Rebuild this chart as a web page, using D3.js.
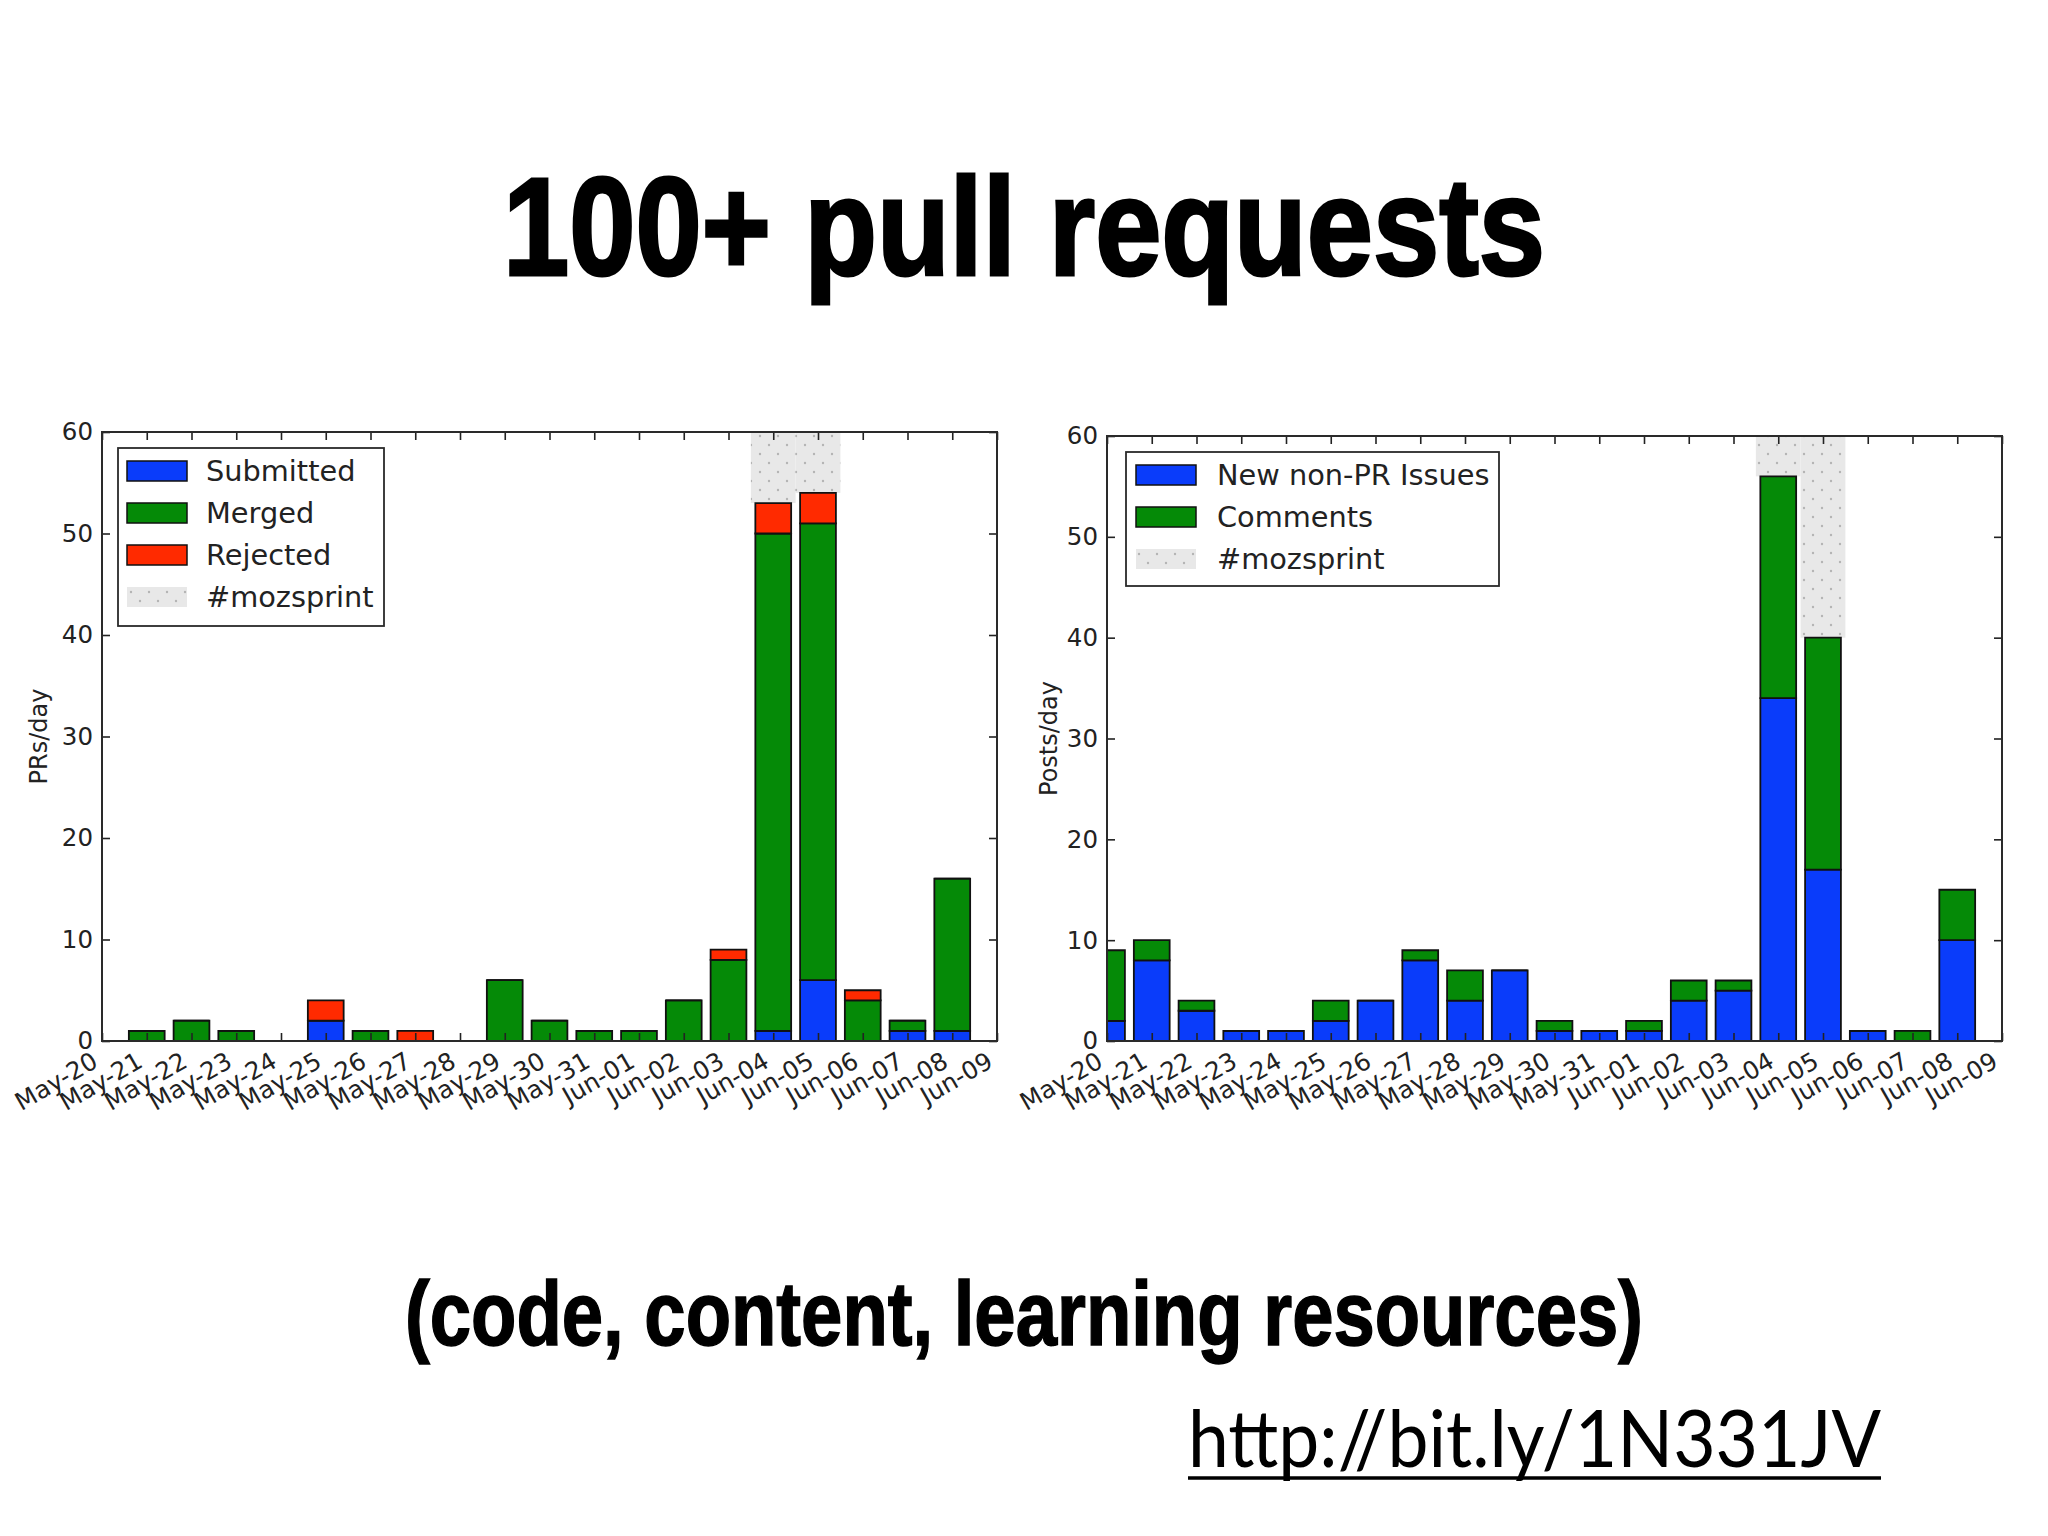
<!DOCTYPE html>
<html>
  <head>
    <meta charset="utf-8">
    <style>
      body { margin: 0; background: #fff; }
      svg { display: block; }
    </style>
  </head>
  <body>
    <div id='slide'></div>

    <script src="https://cdn.jsdelivr.net/npm/d3@7"></script>
    <script>

    // tick labels (one per day, the last one has no bar)
    var days = ["May-20","May-21","May-22","May-23","May-24","May-25","May-26","May-27",
                "May-28","May-29","May-30","May-31","Jun-01","Jun-02","Jun-03","Jun-04",
                "Jun-05","Jun-06","Jun-07","Jun-08","Jun-09"];
    var barDays = days.slice(0, 20);
    var sprintDays = ["Jun-04","Jun-05"];
    var yTicks = [0,10,20,30,40,50,60];

    // left chart: PRs/day  (null = no row that day)
    var submitted = [0,0,0,0,null,2,0,0,null,0,0,0,0,0,0, 1, 6,0,1, 1];
    var merged    = [0,1,2,1,null,0,1,0,null,6,2,1,1,4,8,49,45,4,1,15];
    var rejected  = [0,0,0,0,null,2,0,1,null,0,0,0,0,0,1, 3, 3,1,0, 0];

    // right chart: Posts/day
    var issues   = [2,8,3,1,1,2,4,8,4,7,1,1,1,4,5,34,17,1,0,10];
    var comments = [7,2,1,0,0,2,0,1,3,0,1,0,1,2,1,22,23,0,1, 5];

    var W = 2048, H = 1536;

    var svg = d3.select('#slide').append('svg')
        .attr('width', W)
        .attr('height', H);

    var defs = svg.append('defs');
    var pat = defs.append('pattern')
        .attr('id', 'dots')
        .attr('patternUnits', 'userSpaceOnUse')
        .attr('width', 18).attr('height', 18);
    pat.append('rect').attr('width', 18).attr('height', 18).attr('fill', '#e8e8e8');
    pat.append('circle').attr('cx', 4).attr('cy', 4).attr('r', 1.2).attr('fill', '#b4b4b4');
    pat.append('circle').attr('cx', 13).attr('cy', 13).attr('r', 1.2).attr('fill', '#b4b4b4');

    svg.append('rect').attr('width', W).attr('height', H).attr('fill', '#fff');

    function drawChart(c) {
      var x = d3.scalePoint().domain(days).range([c.left, c.right]);
      var y = d3.scaleLinear().domain([0, 60]).range([c.bottom, c.top]);
      var bw = x.step() * 0.8;

      var g = svg.append('g');

      defs.append('clipPath').attr('id', 'clip-' + c.id)
        .append('rect')
        .attr('x', c.left).attr('y', c.top)
        .attr('width', c.right - c.left).attr('height', c.bottom - c.top);

      var plot = g.append('g').attr('clip-path', 'url(#clip-' + c.id + ')');

      var rows = barDays.map(function(d, i) {
        var r = {day: d, missing: c.series[0][i] == null, total: 0};
        c.keys.forEach(function(k, j) {
          r[k] = c.series[j][i] || 0;
          r.total += r[k];
        });
        return r;
      });
      var stacked = d3.stack().keys(c.keys)(rows);

      // #mozsprint shading, above the bars of the sprint days
      plot.selectAll('.sprint')
          .data(rows.filter(function(r) { return sprintDays.indexOf(r.day) >= 0; }))
          .enter()
          .append('rect')
          .attr('class', 'sprint')
          .attr('x', function(d) { return x(d.day) - x.step() / 2; })
          .attr('width', x.step())
          .attr('y', y(60))
          .attr('height', function(d) { return y(d.total) - y(60); })
          .attr('fill', 'url(#dots)');

      plot.selectAll('.layer')
          .data(stacked)
          .enter()
          .append('g')
          .attr('class', 'layer')
          .attr('fill', function(d, i) { return c.colors[i]; })
          .selectAll('path')
          .data(function(d) { return d.filter(function(s) { return !s.data.missing; }); })
          .enter()
          .append('path')
          .attr('d', function(s) {
            var xl = x(s.data.day) - bw / 2, yt = y(s[1]), yb = y(s[0]);
            return 'M' + xl + ',' + yb + 'V' + yt + 'H' + (xl + bw) + 'V' + yb + 'Z';
          })
          .attr('stroke', '#111')
          .attr('stroke-width', 1.8);

      // axes, ticks inside on all four sides
      var bottom = g.append('g')
          .attr('transform', 'translate(0,' + c.bottom + ')')
          .call(d3.axisBottom(x).tickSize(-8));
      bottom.selectAll('text')
          .attr('y', 0).attr('dy', null)
          .attr('text-anchor', 'end')
          .attr('transform', 'translate(-3,25) rotate(-30)');

      var top = g.append('g')
          .attr('transform', 'translate(0,' + c.top + ')')
          .call(d3.axisTop(x).tickSize(-8).tickFormat(''));

      var left = g.append('g')
          .attr('transform', 'translate(' + c.left + ',0)')
          .call(d3.axisLeft(y).tickValues(yTicks).tickSize(-8).tickPadding(9));

      var right = g.append('g')
          .attr('transform', 'translate(' + c.right + ',0)')
          .call(d3.axisRight(y).tickValues(yTicks).tickSize(-8).tickFormat(''));

      [bottom, top, left, right].forEach(function(a) {
        a.select('.domain').remove();
        a.attr('font-family', '"DejaVu Sans", sans-serif')
         .attr('font-size', 24.5)
         .attr('color', '#222');
        a.selectAll('line').attr('stroke-width', 1.6);
      });

      g.append('rect')
          .attr('x', c.left).attr('y', c.top)
          .attr('width', c.right - c.left).attr('height', c.bottom - c.top)
          .attr('fill', 'none')
          .attr('stroke', '#2a2a2a')
          .attr('stroke-width', 2);

      g.append('text')
          .attr('transform', 'translate(' + c.ylabelX + ',' + (c.top + c.bottom) / 2 + ') rotate(-90)')
          .attr('text-anchor', 'middle')
          .attr('dy', '0.35em')
          .attr('font-family', '"DejaVu Sans", sans-serif')
          .attr('font-size', 24)
          .attr('fill', '#222')
          .text(c.ylabel);

      // legend
      var lg = g.append('g')
          .attr('transform', 'translate(' + c.legend.x + ',' + c.legend.y + ')');
      lg.append('rect')
          .attr('width', c.legend.w).attr('height', c.legend.h)
          .attr('fill', '#fff')
          .attr('stroke', '#2a2a2a')
          .attr('stroke-width', 1.8);

      var items = c.labels.map(function(l, i) {
        return {label: l, fill: c.colors[i], edge: '#111'};
      }).concat([{label: '#mozsprint', fill: 'url(#dots)', edge: 'none'}]);

      var it = lg.selectAll('.item')
          .data(items)
          .enter()
          .append('g')
          .attr('class', 'item')
          .attr('transform', function(d, i) { return 'translate(0,' + (23 + i * 42) + ')'; });
      it.append('rect')
          .attr('x', c.legend.px).attr('y', -10)
          .attr('width', 60).attr('height', 20)
          .attr('fill', function(d) { return d.fill; })
          .attr('stroke', function(d) { return d.edge; })
          .attr('stroke-width', 1.5);
      it.append('text')
          .attr('x', c.legend.tx)
          .attr('dy', '0.36em')
          .attr('font-family', '"DejaVu Sans", sans-serif')
          .attr('font-size', 28.8)
          .attr('fill', '#222')
          .text(function(d) { return d.label; });
    }

    drawChart({
      id: 'prs',
      left: 102, right: 997, top: 432, bottom: 1041,
      keys: ['submitted', 'merged', 'rejected'],
      series: [submitted, merged, rejected],
      labels: ['Submitted', 'Merged', 'Rejected'],
      colors: ['#0a3cfa', '#058a07', '#ff2a00'],
      ylabel: 'PRs/day', ylabelX: 39,
      legend: {x: 118, y: 448, w: 266, h: 178, px: 9, tx: 88}
    });

    drawChart({
      id: 'posts',
      left: 1107, right: 2002, top: 436, bottom: 1041,
      keys: ['issues', 'comments'],
      series: [issues, comments],
      labels: ['New non-PR Issues', 'Comments'],
      colors: ['#0a3cfa', '#058a07'],
      ylabel: 'Posts/day', ylabelX: 1049,
      legend: {x: 1126, y: 452, w: 373, h: 134, px: 10, tx: 91}
    });

    // slide texts
    svg.append('text')
        .attr('x', 503).attr('y', 275)
        .attr('textLength', 1042)
        .attr('lengthAdjust', 'spacingAndGlyphs')
        .attr('font-family', '"Liberation Sans Narrow", "Liberation Sans", Arial, sans-serif')
        .attr('font-weight', 'bold')
        .attr('font-size', 140)
        .attr('fill', '#000')
        .attr('stroke', '#000')
        .attr('stroke-width', 3)
        .text('100+ pull requests');

    svg.append('text')
        .attr('x', 405).attr('y', 1345)
        .attr('textLength', 1238)
        .attr('lengthAdjust', 'spacingAndGlyphs')
        .attr('font-family', '"Liberation Sans Narrow", "Liberation Sans", Arial, sans-serif')
        .attr('font-weight', 'bold')
        .attr('font-size', 90)
        .attr('fill', '#000')
        .attr('stroke', '#000')
        .attr('stroke-width', 1.5)
        .text('(code, content, learning resources)');

    svg.append('text')
        .attr('x', 1188).attr('y', 1467)
        .attr('textLength', 693)
        .attr('lengthAdjust', 'spacingAndGlyphs')
        .attr('font-family', 'Lato, "Open Sans", sans-serif')
        .attr('font-size', 80)
        .attr('fill', '#000')
        .text('http://bit.ly/1N331JV');

    svg.append('line')
        .attr('x1', 1188).attr('x2', 1881)
        .attr('y1', 1478).attr('y2', 1478)
        .attr('stroke', '#000')
        .attr('stroke-width', 3.5);

    </script>
  </body>
</html>
